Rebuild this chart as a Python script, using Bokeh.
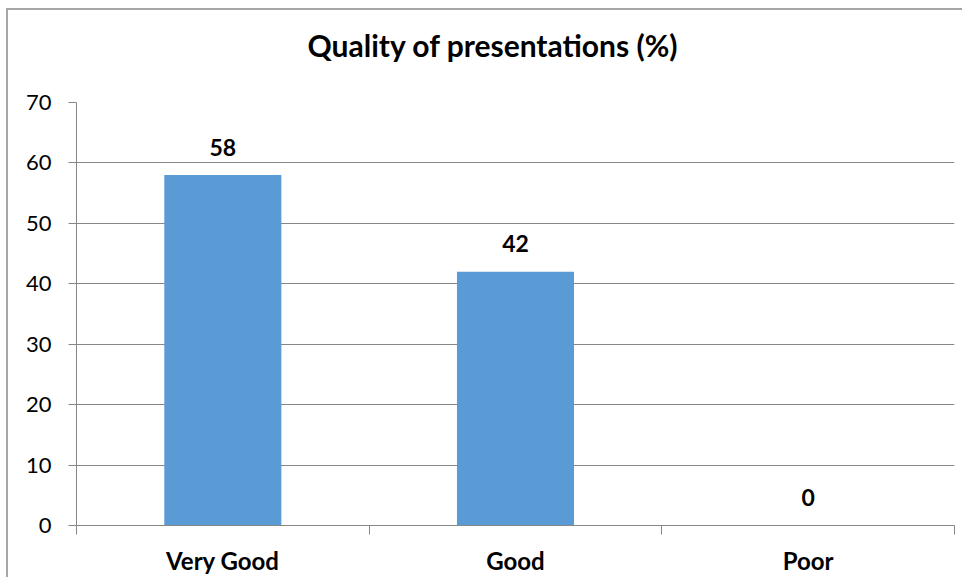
from bokeh.plotting import figure
from bokeh.models import ColumnDataSource, FixedTicker, Range1d, Title
from bokeh.core.properties import value
from bokeh.embed import file_html
from bokeh.resources import INLINE

# ---- data ----
categories = ["Very Good", "Good", "Poor"]
percent = [58, 42, 0]
y_ticks = [0, 10, 20, 30, 40, 50, 60, 70]
title_text = "Quality of presentations (%)"

n = len(categories)
centers = [i + 0.5 for i in range(n)]
bounds = [float(i) for i in range(n + 1)]

src = ColumnDataSource(dict(x=centers, top=percent, label=[str(v) for v in percent]))

FONT = "Lato"
GRAY = "#868686"
BORDER = "#a6a6a6"

p = figure(width=962, height=577, output_backend="svg", toolbar_location=None,
           x_range=Range1d(0, n), y_range=Range1d(0, 70),
           min_border_left=76, min_border_right=8, min_border_top=102, min_border_bottom=51)
p.outline_line_color = None
p.background_fill_color = "white"
p.border_fill_color = None
# outer chart-area border (left and top edges visible), drawn behind the transparent canvas
p.styles = {
    "background-color": "white",
    "background-image": f"linear-gradient({BORDER}, {BORDER}), linear-gradient({BORDER}, {BORDER})",
    "background-size": "2px 100%, 100% 2px",
    "background-position": "6px 8px, 6px 8px",
    "background-repeat": "no-repeat",
}

p.vbar(x="x", top="top", width=0.4, bottom=0, source=src,
       fill_color="#5B9BD5", line_color=None)

p.text(x="x", y="top", text="label", source=src, y_offset=-28,
       text_align="center", text_baseline="alphabetic",
       text_font=value(FONT), text_font_style="bold", text_font_size="23px",
       text_color="black")

# y axis
p.yaxis.ticker = FixedTicker(ticks=y_ticks)
p.yaxis.axis_line_color = GRAY
p.yaxis.major_tick_line_color = GRAY
p.yaxis.major_tick_out = 8
p.yaxis.major_tick_in = 0
p.yaxis.minor_tick_line_color = None
p.yaxis.major_label_standoff = 17
p.yaxis.major_label_text_font = FONT
p.yaxis.major_label_text_font_size = "22px"
p.yaxis.major_label_text_color = "black"
p.ygrid.grid_line_color = GRAY
p.ygrid.ticker = FixedTicker(ticks=y_ticks)

# x axis: labels at category centres, tick marks at boundaries
p.xaxis.ticker = FixedTicker(ticks=centers, minor_ticks=bounds)
p.xaxis.major_label_overrides = {c: lab for c, lab in zip(centers, categories)}
p.xaxis.axis_line_color = GRAY
p.xaxis.major_tick_line_color = None
p.xaxis.major_tick_out = 0
p.xaxis.major_tick_in = 0
p.xaxis.minor_tick_line_color = GRAY
p.xaxis.minor_tick_out = 9
p.xaxis.minor_tick_in = 0
p.xaxis.major_label_standoff = 11
p.xaxis.major_label_text_font = FONT
p.xaxis.major_label_text_font_style = "bold"
p.xaxis.major_label_text_font_size = "24px"
p.xaxis.major_label_text_color = "black"
p.xgrid.grid_line_color = None

p.title = Title(text=title_text, align="left", offset=231, standoff=0,
                vertical_align="bottom",
                padding=dict(left=0, right=0, top=0, bottom=40),
                text_font=FONT, text_font_style="bold", text_font_size="30px",
                text_color="black")

open("out.html", "w").write(file_html(p, INLINE))
